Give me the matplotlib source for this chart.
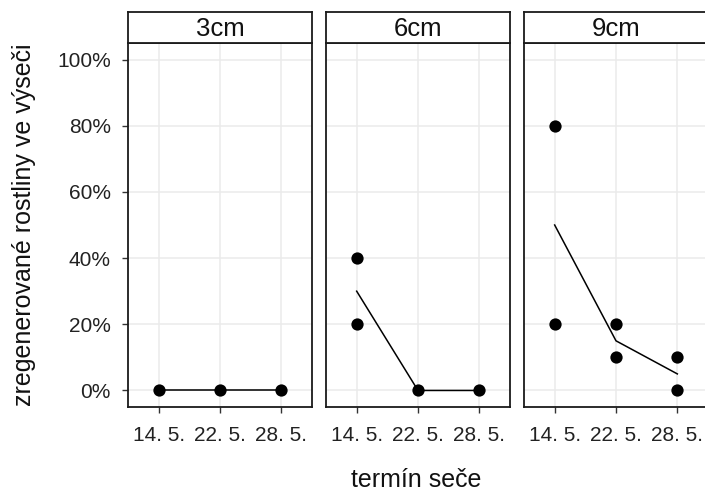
import matplotlib
matplotlib.use("Agg")
import matplotlib.pyplot as plt
import numpy as np

plt.rcParams['font.family'] = ['Liberation Sans', 'DejaVu Sans']

# data
terminy = ["14. 5.", "22. 5.", "28. 5."]
vysky = ["3cm", "6cm", "9cm"]
# individual observations (x index, value in %)
body_3 = [(0, 0), (1, 0), (2, 0)]
body_6 = [(0, 40), (0, 20), (1, 0), (2, 0)]
body_9 = [(0, 80), (0, 20), (1, 20), (1, 10), (2, 10), (2, 0)]
prumer_3 = [0, 0, 0]
prumer_6 = [30, 0, 0]
prumer_9 = [50, 15, 5]

body = [body_3, body_6, body_9]
prumery = [prumer_3, prumer_6, prumer_9]

W, H = 705, 491
fig = plt.figure(figsize=(W / 100, H / 100), dpi=100)

panel_left = [128, 326, 524]
panel_w = 184
p_top, p_bot = 43, 407
s_top = 12

txt_col = "#222222"
grid_col = "#EBEBEB"
for i, vyska in enumerate(vysky):
    x0 = panel_left[i] / W
    ax = fig.add_axes([x0, (H - p_bot) / H, panel_w / W, (p_bot - p_top) / H])
    xs = np.arange(len(terminy))
    pts = np.array(body[i])
    ax.plot(xs, prumery[i], color="black", lw=1.1, zorder=3)
    ax.scatter(pts[:, 0], pts[:, 1], s=78, color="black", zorder=4, linewidths=0)
    ax.set_xlim(-0.5, 2.5)
    ax.set_ylim(-5, 105)
    ax.set_xticks(xs)
    ax.set_xticklabels(terminy, fontsize=15, color=txt_col)
    ax.set_yticks([0, 20, 40, 60, 80, 100])
    if i == 0:
        ax.set_yticklabels([f"{v}%" for v in [0, 20, 40, 60, 80, 100]], fontsize=15, color=txt_col)
    else:
        ax.tick_params(axis="y", left=False, labelleft=False)
    ax.tick_params(axis="both", length=4.5, width=1, color="#333333")
    ax.tick_params(axis="x", pad=9)
    ax.tick_params(axis="y", pad=8)
    ax.grid(True, color=grid_col, lw=1.1)
    ax.set_axisbelow(True)
    for sp in ax.spines.values():
        sp.set_color("#1a1a1a")
        sp.set_linewidth(1.3)

    sax = fig.add_axes([x0, (H - p_top) / H, panel_w / W, (p_top - s_top) / H])
    sax.set_xticks([])
    sax.set_yticks([])
    for sp in sax.spines.values():
        sp.set_color("#1a1a1a")
        sp.set_linewidth(1.3)
    sax.text(0.5, 0.45, vyska, ha="center", va="center", fontsize=18.5, color="#111111",
             transform=sax.transAxes)

fig.text(416 / W, 1 - 480 / H, "termín seče", ha="center", va="center", fontsize=18,
         color="#111111")
fig.text(24 / W, 1 - 225 / H, "zregenerované rostliny ve výseči", ha="center", va="center",
         rotation=90, fontsize=18, color="#111111")

fig.savefig("out.png", dpi=100)
